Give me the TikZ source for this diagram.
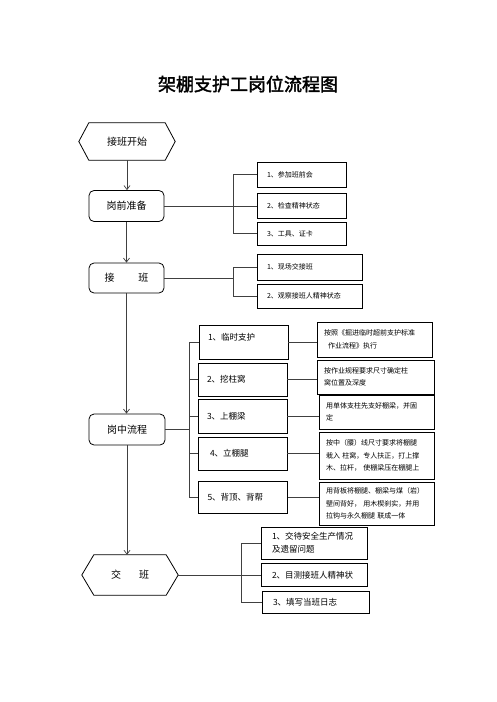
\documentclass[tikz,border=0pt]{standalone}
\usepackage{fontspec}
\newfontfamily\cjk{Noto Sans CJK SC}
\newfontfamily\cjktitle[FakeBold=2]{Noto Sans CJK SC}
\usetikzlibrary{arrows.meta,calc}
\begin{document}
\begin{tikzpicture}[x=1pt,y=-1pt,
  box/.style={draw=black,line width=0.8pt,inner ysep=0pt},
  rbox/.style={box,rounded corners=5pt,inner xsep=0pt,font=\cjk\fontsize{10}{12}\selectfont},
  hexnode/.style={inner sep=0pt,font=\cjk\fontsize{10}{12}\selectfont},
  sbox/.style={box,align=left,inner xsep=10pt,font=\cjk\fontsize{7}{12}\selectfont},
  tbox/.style={box,align=left,inner xsep=9pt,text width=71pt,font=\cjk\fontsize{8.5}{12}\selectfont},
  dbox/.style={box,align=left,inner xsep=7pt,font=\cjk\fontsize{7}{12.5}\selectfont},
  ebox/.style={box,align=left,inner xsep=11pt,font=\cjk\fontsize{8.5}{13}\selectfont},
  conn/.style={draw=black!75,line width=0.7pt},
  arr/.style={conn,-{Straight Barb[length=4pt,width=6pt]}},
  hexline/.style={draw=black,line width=0.8pt}]
\fill[white] (0,0) rectangle (496,702);
\useasboundingbox (0,0) rectangle (496,702);

% title
\node (title) at (248,84) {\cjktitle\fontsize{18}{20}\selectfont 架棚支护工岗位流程图};

% main column
\node[hexnode,minimum width=96pt,minimum height=37pt] (h1) at (127,141.5) {接班开始};
\draw[hexline] (h1.west) -- ([xshift=10pt]h1.north west) -- ([xshift=-10pt]h1.north east)
  -- (h1.east) -- ([xshift=-10pt]h1.south east) -- ([xshift=10pt]h1.south west) -- cycle;

\node[rbox,minimum width=75pt,minimum height=31pt] (gq) at (126.5,206) {岗前准备};
\node[rbox,minimum width=75pt,minimum height=30pt] (jb) at (126.5,278) {接\hspace{2.4em}班};
\node[rbox,minimum width=76pt,minimum height=31pt] (gz) at (127,429.5) {岗中流程};

\node[hexnode,minimum width=96pt,minimum height=40pt] (h2) at (130,575) {交\hspace{1.8em}班};
\draw[hexline] (h2.west) -- ([xshift=12pt]h2.north west) -- ([xshift=-12pt]h2.north east)
  -- (h2.east) -- ([xshift=-12pt]h2.south east) -- ([xshift=12pt]h2.south west) -- cycle;

\draw[arr] (h1.south) -- (h1.south |- gq.north);
\draw[arr] (gq.south) -- (gq.south |- jb.north);
\draw[arr] (jb.south) -- (jb.south |- gz.north);
\draw[arr] (gz.south) -- (gz.south |- h2.north);

% group 1
\node[sbox,text width=69pt,minimum height=25pt] (s11) at (301.5,174.5) {1、参加班前会};
\node[sbox,text width=69pt,minimum height=25pt] (s12) at (301.5,206) {2、检查精神状态};
\node[sbox,text width=69pt,minimum height=23pt] (s13) at (301.5,233.5) {3、工具、证卡};
\coordinate (b1) at (233,0);
\draw[conn] (gq.east) -- (gq.east -| s12.west);
\draw[conn] (s11.west) -| (b1 |- s13.west) -- (s13.west);

% group 2
\node[sbox,text width=85pt,minimum height=26pt] (s21) at (309.5,267) {1、现场交接班};
\node[sbox,text width=85pt,minimum height=24pt] (s22) at (309.5,296) {2、观察接班人精神状态};
\draw[conn] (jb.east) -- (b1 |- jb.east);
\draw[conn] (s21.west) -| (b1 |- s22.west) -- (s22.west);

% group 3 steps
\node[tbox,minimum height=34pt,text depth=11pt] (t1) at (243.5,342) {1、临时支护};
\node[tbox,minimum height=33pt] (t2) at (242.5,379.5) {2、挖柱窝};
\node[tbox,minimum height=34pt] (t3) at (242.5,416) {3、上棚梁};
\node[tbox,minimum height=33pt] (t4) at (242.5,453.5) {\hspace{3pt}4、立棚腿};
\node[tbox,minimum height=32pt] (t5) at (243,497) {5、背顶、背帮};
\coordinate (b3) at (189,0);
\draw[conn] (gz.east) -- (b3 |- gz.east);
\draw[conn] (t1.west) -| (b3 |- t5.west) -- (t5.west);
\foreach \t in {t2,t3,t4} \draw[conn] (b3 |- \t.west) -- (\t.west);

% descriptions
\node[dbox,text width=101pt,minimum height=35pt] (d1) at (374.5,339.5) {按照《掘进临时超前支护标准\\\hspace{4pt}作业流程》执行};
\node[dbox,text width=103pt,minimum height=34pt] (d2) at (375.5,377) {按作业规程要求尺寸确定柱\\窝位置及深度};
\node[dbox,text width=101pt,minimum height=34pt] (d3) at (376.5,412) {用单体支柱先支好棚梁，并固\\定};
\node[dbox,text width=101pt,minimum height=47pt] (d4) at (376.5,455.5) {按中（腰）线尺寸要求将棚腿\\栽入 柱窝，专人扶正，打上撑\\木、拉杆， 使棚梁压在棚腿上};
\node[dbox,text width=101pt,minimum height=43pt] (d5) at (376.5,503.5) {用背板将棚腿、棚梁与煤（岩）\\壁间背好， 用木楔刹实，并用\\拉钩与永久棚腿 联成一体};
\draw[conn] (t1.east) -- (t1.east -| d1.west);
\draw[conn] (t2.east) -- (t2.east -| d2.west);
\draw[conn] (t3.east) -- (t3.east -| d3.west);
\draw[conn] (t4.east) -- (t4.east -| d4.west);
\draw[conn] (t5.east) -- (t5.east -| d5.west);

% group 4
\node[ebox,text width=84pt,minimum height=32pt] (e1) at (314,543) {1、交待安全生产情况\\及遗留问题};
\node[ebox,text width=84pt,minimum height=23pt] (e2) at (314,575) {2、目测接班人精神状};
\node[ebox,text width=85pt,minimum height=22pt] (e3) at (315.5,602) {3、填写当班日志};
\coordinate (b4) at (241,0);
\draw[conn] (h2.east) -- (h2.east -| e2.west);
\draw[conn] (e1.west) -| (b4 |- e3.west) -- (e3.west);
\end{tikzpicture}
\end{document}
